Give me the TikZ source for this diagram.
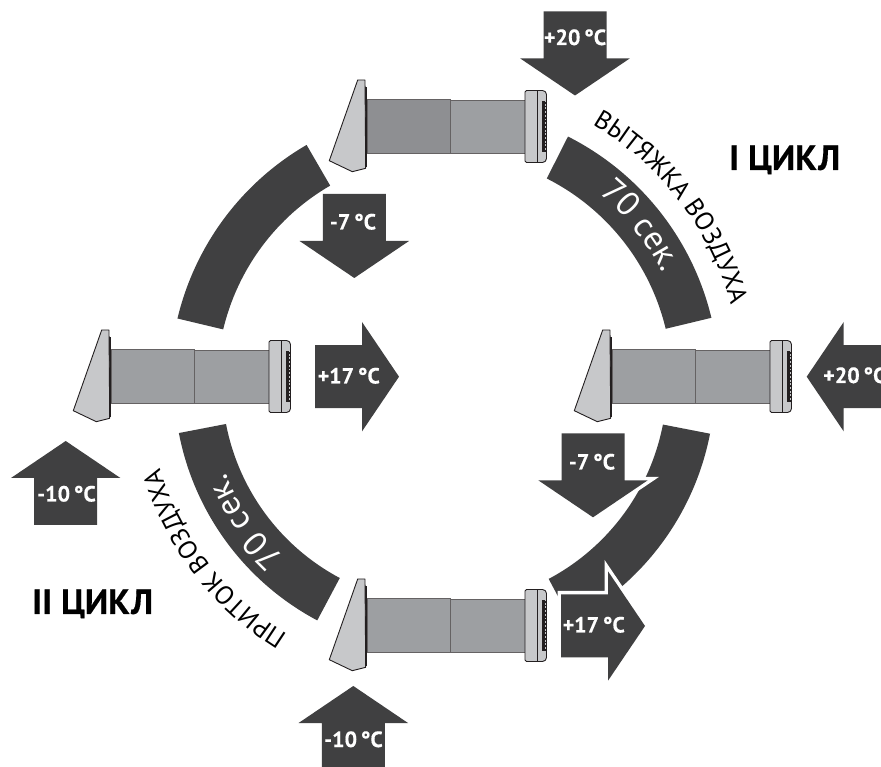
\documentclass[tikz,border=0pt]{standalone}
\usepackage{fontspec}
\setmainfont{PT Sans}[BoldFont={PT Sans Bold},BoldFeatures={FakeBold=0.4}]
\usetikzlibrary{decorations.text}
\definecolor{ink}{HTML}{404041}
\definecolor{tubeA}{HTML}{9D9FA2}
\definecolor{tubeDark}{HTML}{8E8F92}
\definecolor{hoodgray}{HTML}{C7C8CA}
\definecolor{edge}{HTML}{231F20}
\newcommand{\lblfont}{\fontsize{22}{24}\selectfont\bfseries}
\newcommand{\cyclefont}{\fontsize{35}{38}\selectfont\bfseries}
\newcommand{\bandfont}{\fontsize{34}{38}\selectfont\color{white}}
\newcommand{\outerfont}{\fontsize{26}{28}\selectfont\color{black}}
\newcommand{\dg}{\hspace{0.17em}°C}
\tikzset{
  band/.style={fill=ink,draw=none},
  flowarrow/.style={fill=ink,draw=none},
  flowhalo/.style={draw=white,line width=7pt,miter limit=10},
  flowlabel/.style={text=white,font=\lblfont,anchor=base,inner sep=0pt},
  cyclelabel/.style={text=black,font=\cyclefont,anchor=base west,inner sep=0pt},
  unitline/.style={draw=edge,line width=0.9pt}
}
% dx, dy, colour of first tube
\newcommand{\unitdraw}[3]{%
  \begin{scope}[shift={(#1,#2)}]
    \fill[edge] (365,87) rectangle (367.3,167);
    \filldraw[fill=#3,draw=edge!70,line width=0.8pt] (367,99) rectangle (450,153);
    \filldraw[fill=tubeA,draw=edge!70,line width=0.8pt] (450,100) rectangle (525,153);
    \filldraw[unitline,fill=hoodgray,line join=round] (357.7,80) -- (365,80) -- (365.7,168.3) -- (352.3,171.7) -- (329.3,160.7) -- cycle;
    \filldraw[unitline,fill=hoodgray,rounded corners=1.5pt] (525,90.5) -- (544,90.5) -- (546.5,93) -- (546.5,160) -- (544,162.5) -- (525,162.5) -- cycle;
    \draw[unitline] (537,90.5) -- (537,162.5);
    \fill[edge] (541.8,101) rectangle (544.5,152);
    \foreach \k in {0,...,13} {\fill[edge] (541.8,{102+\k*3.7}) rectangle (547.3,{103.8+\k*3.7});}
  \end{scope}%
}
% tip x, tip y, rotation
\newcommand{\flowpath}{(0,0) -- (-37,54.7) -- (-37,31.5) -- (-84,31.5) -- (-84,-31.5) -- (-37,-31.5) -- (-37,-54.7) -- cycle}
\newcommand{\flowdraw}[3]{\fill[flowarrow,shift={(#1,#2)},rotate=#3] \flowpath;}
\newcommand{\halodraw}[3]{\draw[flowhalo,shift={(#1,#2)},rotate=#3] \flowpath;}
\newcommand{\bandarc}[5]{% start, end, outer, inner, centre y
  \fill[band] ([shift={(444,#5)}]#1:#3) arc[start angle=#1,end angle=#2,radius=#3]
     -- ([shift={(444,#5)}]#2:#4) arc[start angle=#2,end angle=#1,radius=#4] -- cycle;}
% text centred on a circle arc, y-up coordinates, clockwise: start angle, end angle, radius, font, text
\newcommand{\curvetext}[5]{%
  \path[decorate,decoration={text along path,text align=center,text={|#4|#5}}]
    ([shift={(444,384)}]#1:#3) arc[start angle=#1,end angle=#2,radius=#3];}
\begin{document}
\begin{tikzpicture}[x=1pt,y=1pt]
\clip (0,0) rectangle (881,766);
\fill[white] (0,0) rectangle (881,766);
\begin{scope}[shift={(0,766)},yscale=-1]
  \bandarc{193.4}{239.9}{274}{227}{382}
  \bandarc{-63.2}{-13.5}{275}{228}{382}
  \bandarc{11}{62}{271}{223}{382}
  \bandarc{118}{169.1}{270}{222}{382}
  \unitdraw{0}{0}{tubeDark}
  \unitdraw{-256}{250}{tubeA}
  \unitdraw{245}{250}{tubeA}
  \unitdraw{0}{499}{tubeA}
  \flowdraw{575}{95.5}{90}
  \flowdraw{354.3}{278}{90}
  \flowdraw{399}{376.7}{0}
  \flowdraw{806.7}{376.7}{180}
  \flowdraw{65.7}{441}{-90}
  \flowdraw{353.3}{686}{-90}
  \halodraw{593}{517.3}{90}
  \flowdraw{593}{517.3}{90}
  \halodraw{645}{626}{0}
  \flowdraw{645}{626}{0}
  \node[flowlabel] (t1) at (575,45) {+20\dg};
  \node[flowlabel] (t2) at (353,229.5) {-7\dg};
  \node[flowlabel] (t3) at (592,469.5) {-7\dg};
  \node[flowlabel] (t4) at (348.7,383.5) {+17\dg};
  \node[flowlabel] (t5) at (593.7,632.5) {+17\dg};
  \node[flowlabel,anchor=base west] (t6) at (823,383) {+20\dg};
  \node[flowlabel] (t7) at (66.5,501.5) {-10\dg};
  \node[flowlabel] (t8) at (353.5,747) {-10\dg};
  \node[cyclelabel] (c1) at (729,170) {I ЦИКЛ};
  \node[cyclelabel] (c2) at (32,614) {II ЦИКЛ};
\end{scope}
\curvetext{70}{5}{297}{\outerfont}{ВЫТЯЖКА ВОЗДУХА}
\curvetext{-110}{-175}{297}{\outerfont}{ПРИТОК ВОЗДУХА}
\curvetext{69}{8}{244}{\bandfont}{70 сек.}
\curvetext{-115}{-175}{237}{\bandfont}{70 сек.}
\end{tikzpicture}
\end{document}
